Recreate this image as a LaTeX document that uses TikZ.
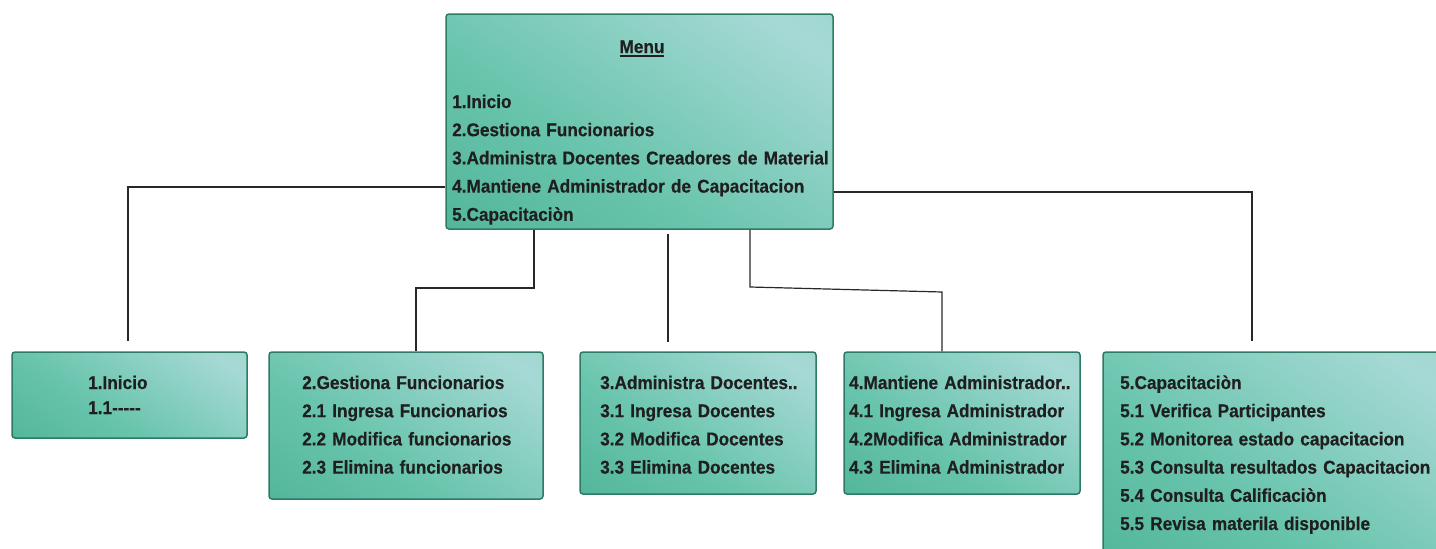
\documentclass[tikz,border=0pt]{standalone}
\usepackage{fontspec}
\setmainfont{Liberation Sans}[FakeStretch=0.93,FakeBold=0.4]
\usetikzlibrary{calc}
\definecolor{box_dark}{RGB}{70, 174, 145}
\definecolor{box_mid}{RGB}{104, 196, 172}
\definecolor{box_light}{RGB}{166, 217, 213}
\definecolor{box_line}{RGB}{46, 122, 100}
\definecolor{wire_grey}{RGB}{40, 40, 40}
\pgfdeclarehorizontalshading{boxshade}{100bp}{color(0bp)=(box_dark); color(40bp)=(box_mid); color(78bp)=(box_light); color(100bp)=(box_light!70!box_mid)}
\newsavebox{\ulbox}
\newcommand{\thickul}[1]{\sbox{\ulbox}{#1}\rlap{\rule[-3.5pt]{\wd\ulbox}{1.3pt}}\usebox{\ulbox}}
\tikzstyle{bx}=[rectangle,rounded corners=3pt,shade,shading=boxshade,shading angle=55,
  draw=box_line,line width=1.5pt]
\tikzstyle{txt}=[inner sep=0pt,anchor=base west,align=left,text width=380pt,
  font=\bfseries\fontsize{18.5}{28.2}\selectfont,text=black!88]
\tikzstyle{wire}=[draw=wire_grey,line width=1.2pt]
\tikzstyle{none}=[]

\begin{document}
\begin{tikzpicture}[x=1pt, y=-1pt]
            \useasboundingbox (0, 0) rectangle (1436, 549);
            \node [style=bx, minimum width=387, minimum height=215] (0) at (639.5, 121.5) {};
            \node [style=bx, minimum width=235, minimum height=86] (1) at (129.5, 395) {};
            \node [style=bx, minimum width=274, minimum height=147] (2) at (406, 425.5) {};
            \node [style=bx, minimum width=236, minimum height=142] (3) at (698, 423) {};
            \node [style=bx, minimum width=236, minimum height=142] (4) at (962, 423) {};
            \node [style=bx, minimum width=347, minimum height=208] (5) at (1276.5, 456) {};
            \node [style=none] (6) at (128, 187) {};
            \node [style=none] (7) at (534, 288) {};
            \node [style=none] (8) at (416, 288) {};
            \node [style=none] (9) at (668, 342) {};
            \node [style=none] (10) at (750, 287) {};
            \node [style=none] (11) at (942, 292) {};
            \node [style=none] (12) at (1252, 192) {};
            \node [style=txt, anchor=base, align=center, text width=100pt] (13) at (642, 53) {\thickul{Menu}};
            \node [style=txt] (14) at (452, 108) {1.Inicio\\2.Gestiona Funcionarios\\3.Administra Docentes Creadores de Material\\4.Mantiene Administrador de Capacitacion\\5.Capacitaciòn};
            \node [style=txt, font=\bfseries\fontsize{18.5}{25}\selectfont] (15) at (88, 389) {1.Inicio\\1.1{-}{-}{-}{-}{-}};
            \node [style=txt] (16) at (302, 389) {2.Gestiona Funcionarios\\2.1 Ingresa Funcionarios\\2.2 Modifica funcionarios\\2.3 Elimina funcionarios};
            \node [style=txt] (17) at (600, 389) {3.Administra Docentes..\\3.1 Ingresa Docentes\\3.2 Modifica Docentes\\3.3 Elimina Docentes};
            \node [style=txt] (18) at (849, 389) {4.Mantiene Administrador..\\4.1 Ingresa Administrador\\4.2Modifica Administrador\\4.3 Elimina Administrador};
            \node [style=txt] (19) at (1120, 389) {5.Capacitaciòn\\5.1 Verifica Participantes\\5.2 Monitorea estado capacitacion\\5.3 Consulta resultados Capacitacion\\5.4 Consulta Calificaciòn\\5.5 Revisa materila disponible};
            \draw [style=wire, shorten >=10pt] (0.west |- 6.center) to (6.center) to (6.center |- 1.north);
            \draw [style=wire] (7.center |- 0.south) to (7.center) to (8.center) to (8.center |- 2.north);
            \draw [style=wire, shorten <=4pt] (9.center |- 0.south) to (9.center);
            \draw [style=wire] (10.center |- 0.south) to (10.center) to (11.center) to (11.center |- 4.north);
            \draw [style=wire, shorten >=10pt] (0.east |- 12.center) to (12.center) to (12.center |- 5.north);
\end{tikzpicture}
\end{document}
